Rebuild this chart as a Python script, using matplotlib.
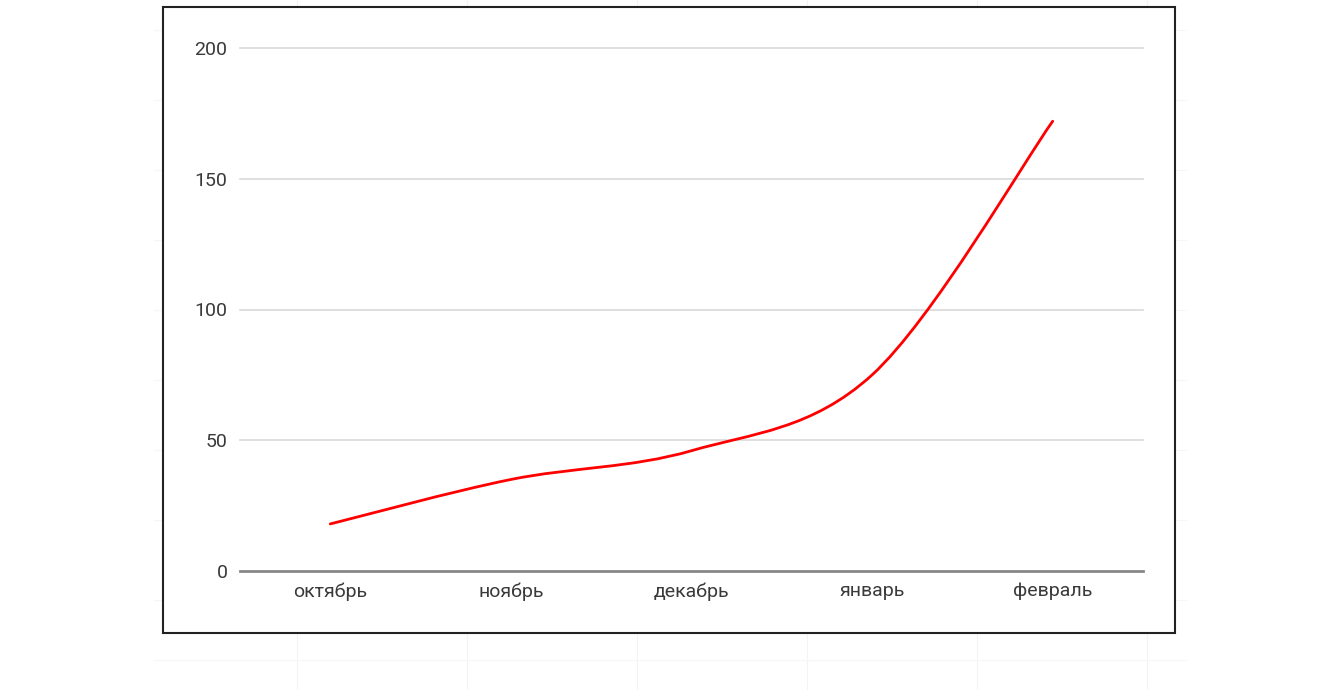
import matplotlib.pyplot as plt
from matplotlib.path import Path
from matplotlib.patches import PathPatch, Rectangle
import numpy as np

months = ["октябрь", "ноябрь", "декабрь", "январь", "февраль"]
values = [18, 35, 46, 75, 172]
yticks = [0, 50, 100, 150, 200]

plt.rcParams['font.family'] = ['Roboto', 'DejaVu Sans']

fig = plt.figure(figsize=(13.4, 6.9), dpi=100)
W, H = 1340, 690

# faint spreadsheet grid behind the chart
for gx in [297, 467, 637, 807, 977, 1147]:
    fig.add_artist(plt.Line2D([gx / W, gx / W], [0, 1], color='#f3f3f3', lw=0.8, zorder=0))
for gy in [30, 100, 170, 240, 310, 380, 450, 520, 600, 660]:
    fig.add_artist(plt.Line2D([0.115, 0.885], [1 - gy / H, 1 - gy / H], color='#f6f6f6', lw=0.8, zorder=0))

# chart box
fig.add_artist(Rectangle((163 / W, 1 - 633 / H), (1175 - 163) / W, (633 - 7) / H,
                         transform=fig.transFigure, facecolor='white',
                         edgecolor='#222222', lw=1.5, zorder=1))

ax = fig.add_axes([240 / W, 1 - 571 / H, (1143 - 240) / W, (571 - 48) / H], zorder=2)
ax.set_facecolor('none')
x = np.arange(len(months))
ax.set_xlim(-0.5, len(months) - 0.5)
ax.set_ylim(0, 200)

for t in yticks[1:]:
    ax.axhline(t, color='#d9d9d9', lw=1.2, zorder=1, clip_on=False)
ax.axhline(0, color='#888888', lw=2, zorder=2, clip_on=False)

# smooth curve through the points (Catmull-Rom as cubic Beziers)
pts = np.column_stack([x, values]).astype(float)
ext = np.vstack([pts[0], pts, pts[-1]])
verts = [tuple(pts[0])]
codes = [Path.MOVETO]
for i in range(len(pts) - 1):
    p0, p1, p2, p3 = ext[i], ext[i + 1], ext[i + 2], ext[i + 3]
    c1 = p1 + (p2 - p0) / 6
    c2 = p2 - (p3 - p1) / 6
    verts += [tuple(c1), tuple(c2), tuple(p2)]
    codes += [Path.CURVE4] * 3
ax.add_patch(PathPatch(Path(verts, codes), facecolor='none', edgecolor='#ff0000',
                       lw=2.0, zorder=3, capstyle='round'))

ax.set_xticks(x)
ax.set_xticklabels(months)
ax.set_yticks(yticks)
ax.tick_params(length=0, labelsize=14, labelcolor='#3a3a3a')
ax.tick_params(axis='y', pad=9)
ax.tick_params(axis='x', pad=8)
for s in ax.spines.values():
    s.set_visible(False)

fig.savefig('out.png', dpi=100, facecolor='white')
